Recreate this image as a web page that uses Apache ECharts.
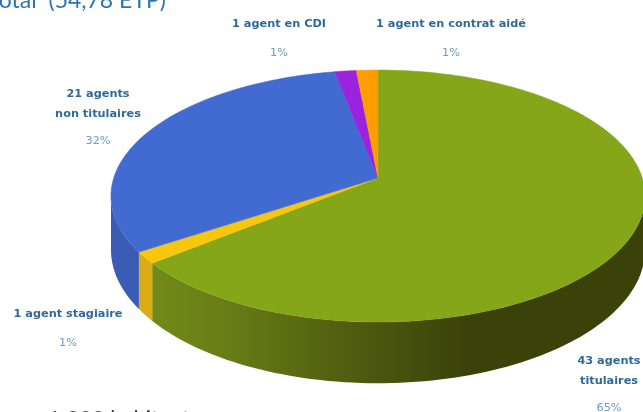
<!DOCTYPE html>
<html>
<head>
<meta charset="utf-8">
<style>html,body{margin:0;padding:0;background:#fff;overflow:hidden}#c{width:643px;height:412px;filter:blur(0.6px)}</style>
<script src="https://cdn.jsdelivr.net/npm/echarts@6/dist/echarts.min.js"></script>
</head>
<body>
<div id="c"></div>
<script>
const categories = ['titulaires', 'stagiaire', 'non titulaires', 'CDI', 'contrat aidé'];
const agents = [43, 1, 21, 1, 1];
const sliceLabels = [
  ['43 agents', 'titulaires'],
  ['1 agent stagiaire'],
  ['21 agents', 'non titulaires'],
  ['1 agent en CDI'],
  ['1 agent en contrat aidé']
];
const percents = ['65%', '1%', '32%', '1%', '1%'];

// layout and style, kept apart from the data
const topColors = ['#86A61A', '#F6C70C', '#416BD0', '#9B23DE', '#FF9D00'];
const labelAnchors = [[609, 361], [68, 314], [98, 94], [279, 24], [451, 24]];
const C = {x: 378, y: 178, R: 264.3, S: 123.4, p: 1 / 7, depth: 52.5};
const total = agents.reduce((a, b) => a + b, 0);

function project(deg, down) {
  const t = deg * Math.PI / 180, u = Math.sin(t), v = -Math.cos(t), w = 1 - C.p * v;
  return [C.x + C.R * u / w, C.y + (C.S * v + (down ? C.depth : 0)) / w];
}
function arc(a0, a1, down) {
  const pts = [], n = Math.max(2, Math.ceil((a1 - a0) / 1.5));
  for (let i = 0; i <= n; i++) pts.push(project(a0 + (a1 - a0) * i / n, down));
  return pts;
}
const rimStart = Math.acos(-C.p) * 180 / Math.PI, rimEnd = 360 - rimStart;
const sideStops = {
  0: [[0, '#3A420A'], [0.36, '#3A420A'], [0.62, '#525F10'], [0.85, '#687D16'], [1, '#718A18']],
  1: [[0, '#DBAB12'], [1, '#DBAB12']],
  2: [[0, '#3A5CB4'], [1, '#3A5CB4']]
};
function renderItem(params, api) {
  const i = params.dataIndex;
  let before = 0;
  for (let k = 0; k < i; k++) before += agents[k];
  const a0 = before / total * 360, a1 = (before + api.value(0)) / total * 360;
  const children = [];
  const s0 = Math.max(a0, rimStart), s1 = Math.min(a1, rimEnd);
  if (s1 > s0) {
    const top = arc(s0, s1, false), bottom = arc(s0, s1, true).reverse();
    children.push({
      type: 'polygon',
      shape: {points: top.concat(bottom)},
      style: {
        fill: new echarts.graphic.LinearGradient(0, 0, 1, 0, sideStops[i].map(s => ({offset: 1 - s[0], color: s[1]})).reverse()),
        stroke: null
      }
    });
  }
  children.push({
    type: 'polygon',
    shape: {points: [[C.x, C.y]].concat(arc(a0, a1, false))},
    style: {fill: topColors[i], stroke: topColors[i], lineWidth: 0.5}
  });
  return {type: 'group', children};
}
const textElems = [];
sliceLabels.forEach((lines, i) => {
  const [x, y] = labelAnchors[i];
  lines.forEach((line, k) => textElems.push({
    type: 'text', x, y: y + k * 20,
    style: {text: line, fill: '#2F6A98', font: 'bold 11.3px "DejaVu Sans"', align: 'center', verticalAlign: 'middle'}
  }));
  const pctY = lines.length === 2 ? y + 47 : y + 29;
  textElems.push({
    type: 'text', x, y: pctY,
    style: {text: percents[i], fill: '#6A9CC4', font: '11.3px "DejaVu Sans"', align: 'center', verticalAlign: 'middle'}
  });
});
textElems.push({type: 'text', x: -12, y: 1, style: {text: 'Total  (54,78 ETP)', fill: '#2E75B6', font: '23px Lato', align: 'left', verticalAlign: 'middle'}});
textElems.push({type: 'text', x: 48, y: 419, style: {text: '1 000 habitants', fill: '#404040', font: '22px Lato', align: 'left', verticalAlign: 'middle'}});

const chart = echarts.init(document.getElementById('c'), null, {renderer: 'canvas'});
chart.setOption({
  animation: false,
  backgroundColor: '#fff',
  xAxis: {show: false, type: 'value'},
  yAxis: {show: false, type: 'value'},
  grid: {left: 0, right: 0, top: 0, bottom: 0},
  series: [{
    type: 'custom',
    coordinateSystem: 'none',
    renderItem,
    data: agents.map((v, i) => ({name: categories[i], value: [v]}))
  }],
  graphic: {elements: textElems}
});
</script>
</body>
</html>
